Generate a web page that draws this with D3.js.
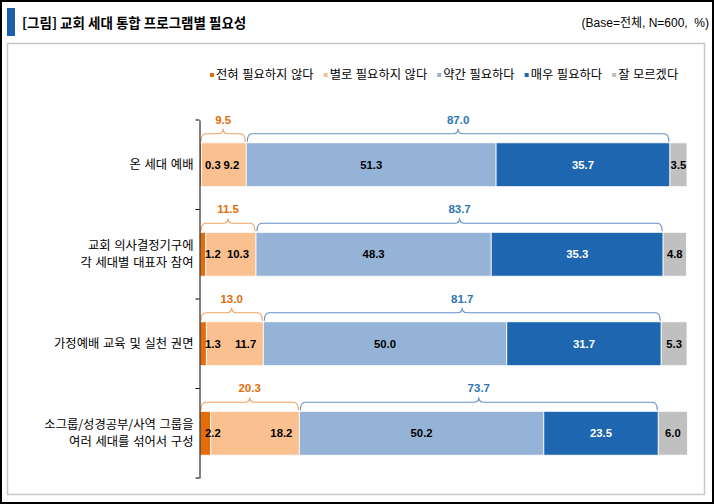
<!doctype html>
<html>
<head>
<meta charset="utf-8">
<title>교회 세대 통합 프로그램별 필요성</title>
<style>
  body { margin: 0; background: #fff; }
  text { font-family: "Noto Sans CJK KR", sans-serif; fill: #000; }
  .num { font-family: "Liberation Sans", Arial, sans-serif; font-weight: bold; }
  .y-axis path { stroke: #000; }
</style>
</head>
<body>
<div id="chart"></div>
<script src="https://cdnjs.cloudflare.com/ajax/libs/d3/7.8.5/d3.min.js"></script>
<script>
var categories = ["온 세대 예배", "교회 의사결정기구에\n각 세대별 대표자 참여", "가정예배 교육 및 실천 권면", "소그룹/성경공부/사역 그룹을\n여러 세대를 섞어서 구성"];
var seriesNames = ["전혀 필요하지 않다", "별로 필요하지 않다", "약간 필요하다", "매우 필요하다", "잘 모르겠다"];
var notAtAll = [0.3, 1.2, 1.3, 2.2];
var notReally = [9.2, 10.3, 11.7, 18.2];
var somewhat = [51.3, 48.3, 50.0, 50.2];
var very = [35.7, 35.3, 31.7, 23.5];
var dontKnow = [3.5, 4.8, 5.3, 6.0];
var negTotal = [9.5, 11.5, 13.0, 20.3];
var posTotal = [87.0, 83.7, 81.7, 73.7];

var colors = ["#E46C0A", "#FAC090", "#95B3D7", "#1F66B1", "#C0C0C0"];
var width = 714, height = 504;
var margin = { top: 120, right: 27, bottom: 26, left: 200 };

var keys = ["s0", "s1", "s2", "s3", "s4"];
var table = categories.map(function (c, i) {
  return { cat: c, s0: notAtAll[i], s1: notReally[i], s2: somewhat[i], s3: very[i], s4: dontKnow[i] };
});
var stacked = d3.stack().keys(keys)(table);

var svg = d3.select("#chart").append("svg").attr("width", width).attr("height", height);

// frame
svg.append("rect").attr("x", 1).attr("y", 1).attr("width", width - 2).attr("height", height - 2)
  .attr("fill", "#fff").attr("stroke", "#000").attr("stroke-width", 2);
svg.append("rect").attr("x", 7.5).attr("y", 43.5).attr("width", 697).attr("height", 451)
  .attr("fill", "none").attr("stroke", "#C8C8C8").attr("stroke-width", 1.5);

// title
svg.append("rect").attr("x", 7).attr("y", 8).attr("width", 8).attr("height", 28).attr("fill", "#1B5EAB");
svg.append("text").attr("x", 22).attr("y", 23).attr("dy", "0.35em")
  .attr("font-size", 13.5).attr("font-weight", "bold").text("[그림] 교회 세대 통합 프로그램별 필요성");
svg.append("text").attr("x", 709).attr("y", 23).attr("dy", "0.35em").attr("text-anchor", "end")
  .attr("font-size", 12).style("font-family", "'Liberation Sans', 'Noto Sans CJK KR', sans-serif")
  .text("(Base=전체, N=600,  %)").attr("xml:space", "preserve");

var xScale = d3.scaleLinear([0, 100], [margin.left, 687]);
var yScale = d3.scaleBand(categories, [margin.top, height - margin.bottom])
  .paddingInner(0.51).paddingOuter(0.255);
var bw = yScale.bandwidth();

// legend
var legend = svg.append("g").attr("class", "legend");
var lx = 210;
seriesNames.forEach(function (name, i) {
  legend.append("rect").attr("x", lx).attr("y", 73).attr("width", 4).attr("height", 4).attr("fill", colors[i]);
  var t = legend.append("text").attr("x", lx + 6).attr("y", 75).attr("dy", "0.35em")
    .attr("font-size", 12.3).attr("fill", "#111").attr("word-spacing", 0.8).text(name);
  lx += 6 + t.node().getComputedTextLength() + 10;
});

// bars
var groups = svg.append("g").attr("class", "layer")
  .selectAll("g").data(stacked).join("g")
  .attr("fill", function (d, i) { return colors[i]; });

groups.selectAll("rect")
  .data(function (d) { return d; })
  .join("rect")
  .attr("x", function (d) { return xScale(d[0]); })
  .attr("y", function (d) { return yScale(d.data.cat); })
  .attr("width", function (d) { return xScale(d[1]) - xScale(d[0]); })
  .attr("height", bw)
  .attr("stroke", "#fff").attr("stroke-width", 0.8);

// segment labels
stacked.forEach(function (layer, k) {
  svg.append("g").selectAll("text")
    .data(layer).join("text")
    .attr("class", "num")
    .attr("font-size", 11.3)
    .attr("y", function (d) { return yScale(d.data.cat) + bw / 2; })
    .attr("dy", "0.36em")
    .attr("x", function (d) {
      if (k === 0) return xScale(0) + 5;
      if (k === 1) return xScale(d[1]) - 7;
      return (xScale(d[0]) + xScale(d[1])) / 2;
    })
    .attr("text-anchor", k === 0 ? "start" : (k === 1 ? "end" : "middle"))
    .style("fill", k === 3 ? "#fff" : "#000")
    .text(function (d) { return d3.format(".1f")(d.data[layer.key]); });
});

// curly brackets above bars
function brace(x0, x1, yTop) {
  var yl = yTop - 9, r = 5, mid = (x0 + x1) / 2;
  return "M" + x0 + "," + (yTop - 1) +
    " Q" + x0 + "," + yl + " " + (x0 + r) + "," + yl +
    " L" + (mid - 5) + "," + yl +
    " Q" + mid + "," + yl + " " + mid + "," + (yl - 5) +
    " Q" + mid + "," + yl + " " + (mid + 5) + "," + yl +
    " L" + (x1 - r) + "," + yl +
    " Q" + x1 + "," + yl + " " + x1 + "," + (yTop - 1);
}

var bracketSets = [
  { from: 0, to: 1, totals: negTotal, line: "#EFA263", label: "#E46C0A" },
  { from: 2, to: 3, totals: posTotal, line: "#6592C8", label: "#2E75B6" }
];
bracketSets.forEach(function (b) {
  var g = svg.append("g");
  categories.forEach(function (c, i) {
    var x0 = xScale(stacked[b.from][i][0]) + 1;
    var x1 = xScale(stacked[b.to][i][1]) - 1;
    var top = yScale(c);
    g.append("path").attr("d", brace(x0, x1, top))
      .attr("fill", "none").attr("stroke", b.line).attr("stroke-width", 1.1);
    g.append("text").attr("class", "num").attr("font-size", 11.5)
      .attr("x", (x0 + x1) / 2).attr("y", top - 23).attr("dy", "0.36em")
      .attr("text-anchor", "middle").style("fill", b.label)
      .text(d3.format(".1f")(b.totals[i]));
  });
});

// y axis
var yAxis = d3.axisLeft(yScale).tickSize(0).tickSizeOuter(0).tickPadding(6);
var ya = svg.append("g").attr("class", "y-axis")
  .attr("transform", "translate(" + (margin.left - 0.5) + ",0)")
  .call(yAxis);
ya.selectAll(".tick text").each(function (d) {
  var lines = d.split("\n");
  var t = d3.select(this).text(null).attr("dy", null)
    .attr("font-size", 12.3).attr("word-spacing", 1)
    .style("font-family", "'Noto Sans CJK KR', sans-serif").attr("fill", "#111");
  lines.forEach(function (ln, j) {
    t.append("tspan").attr("x", -6)
      .attr("dy", j === 0 ? (0.35 - (lines.length - 1) * 0.7) + "em" : "1.4em")
      .text(ln);
  });
});
var step = yScale.step();
d3.range(categories.length + 1).forEach(function (i) {
  var yy = yScale.range()[0] + i * step;
  ya.append("line").attr("x1", -4).attr("x2", 0).attr("y1", yy).attr("y2", yy).attr("stroke", "#000");
});
</script>
</body>
</html>
